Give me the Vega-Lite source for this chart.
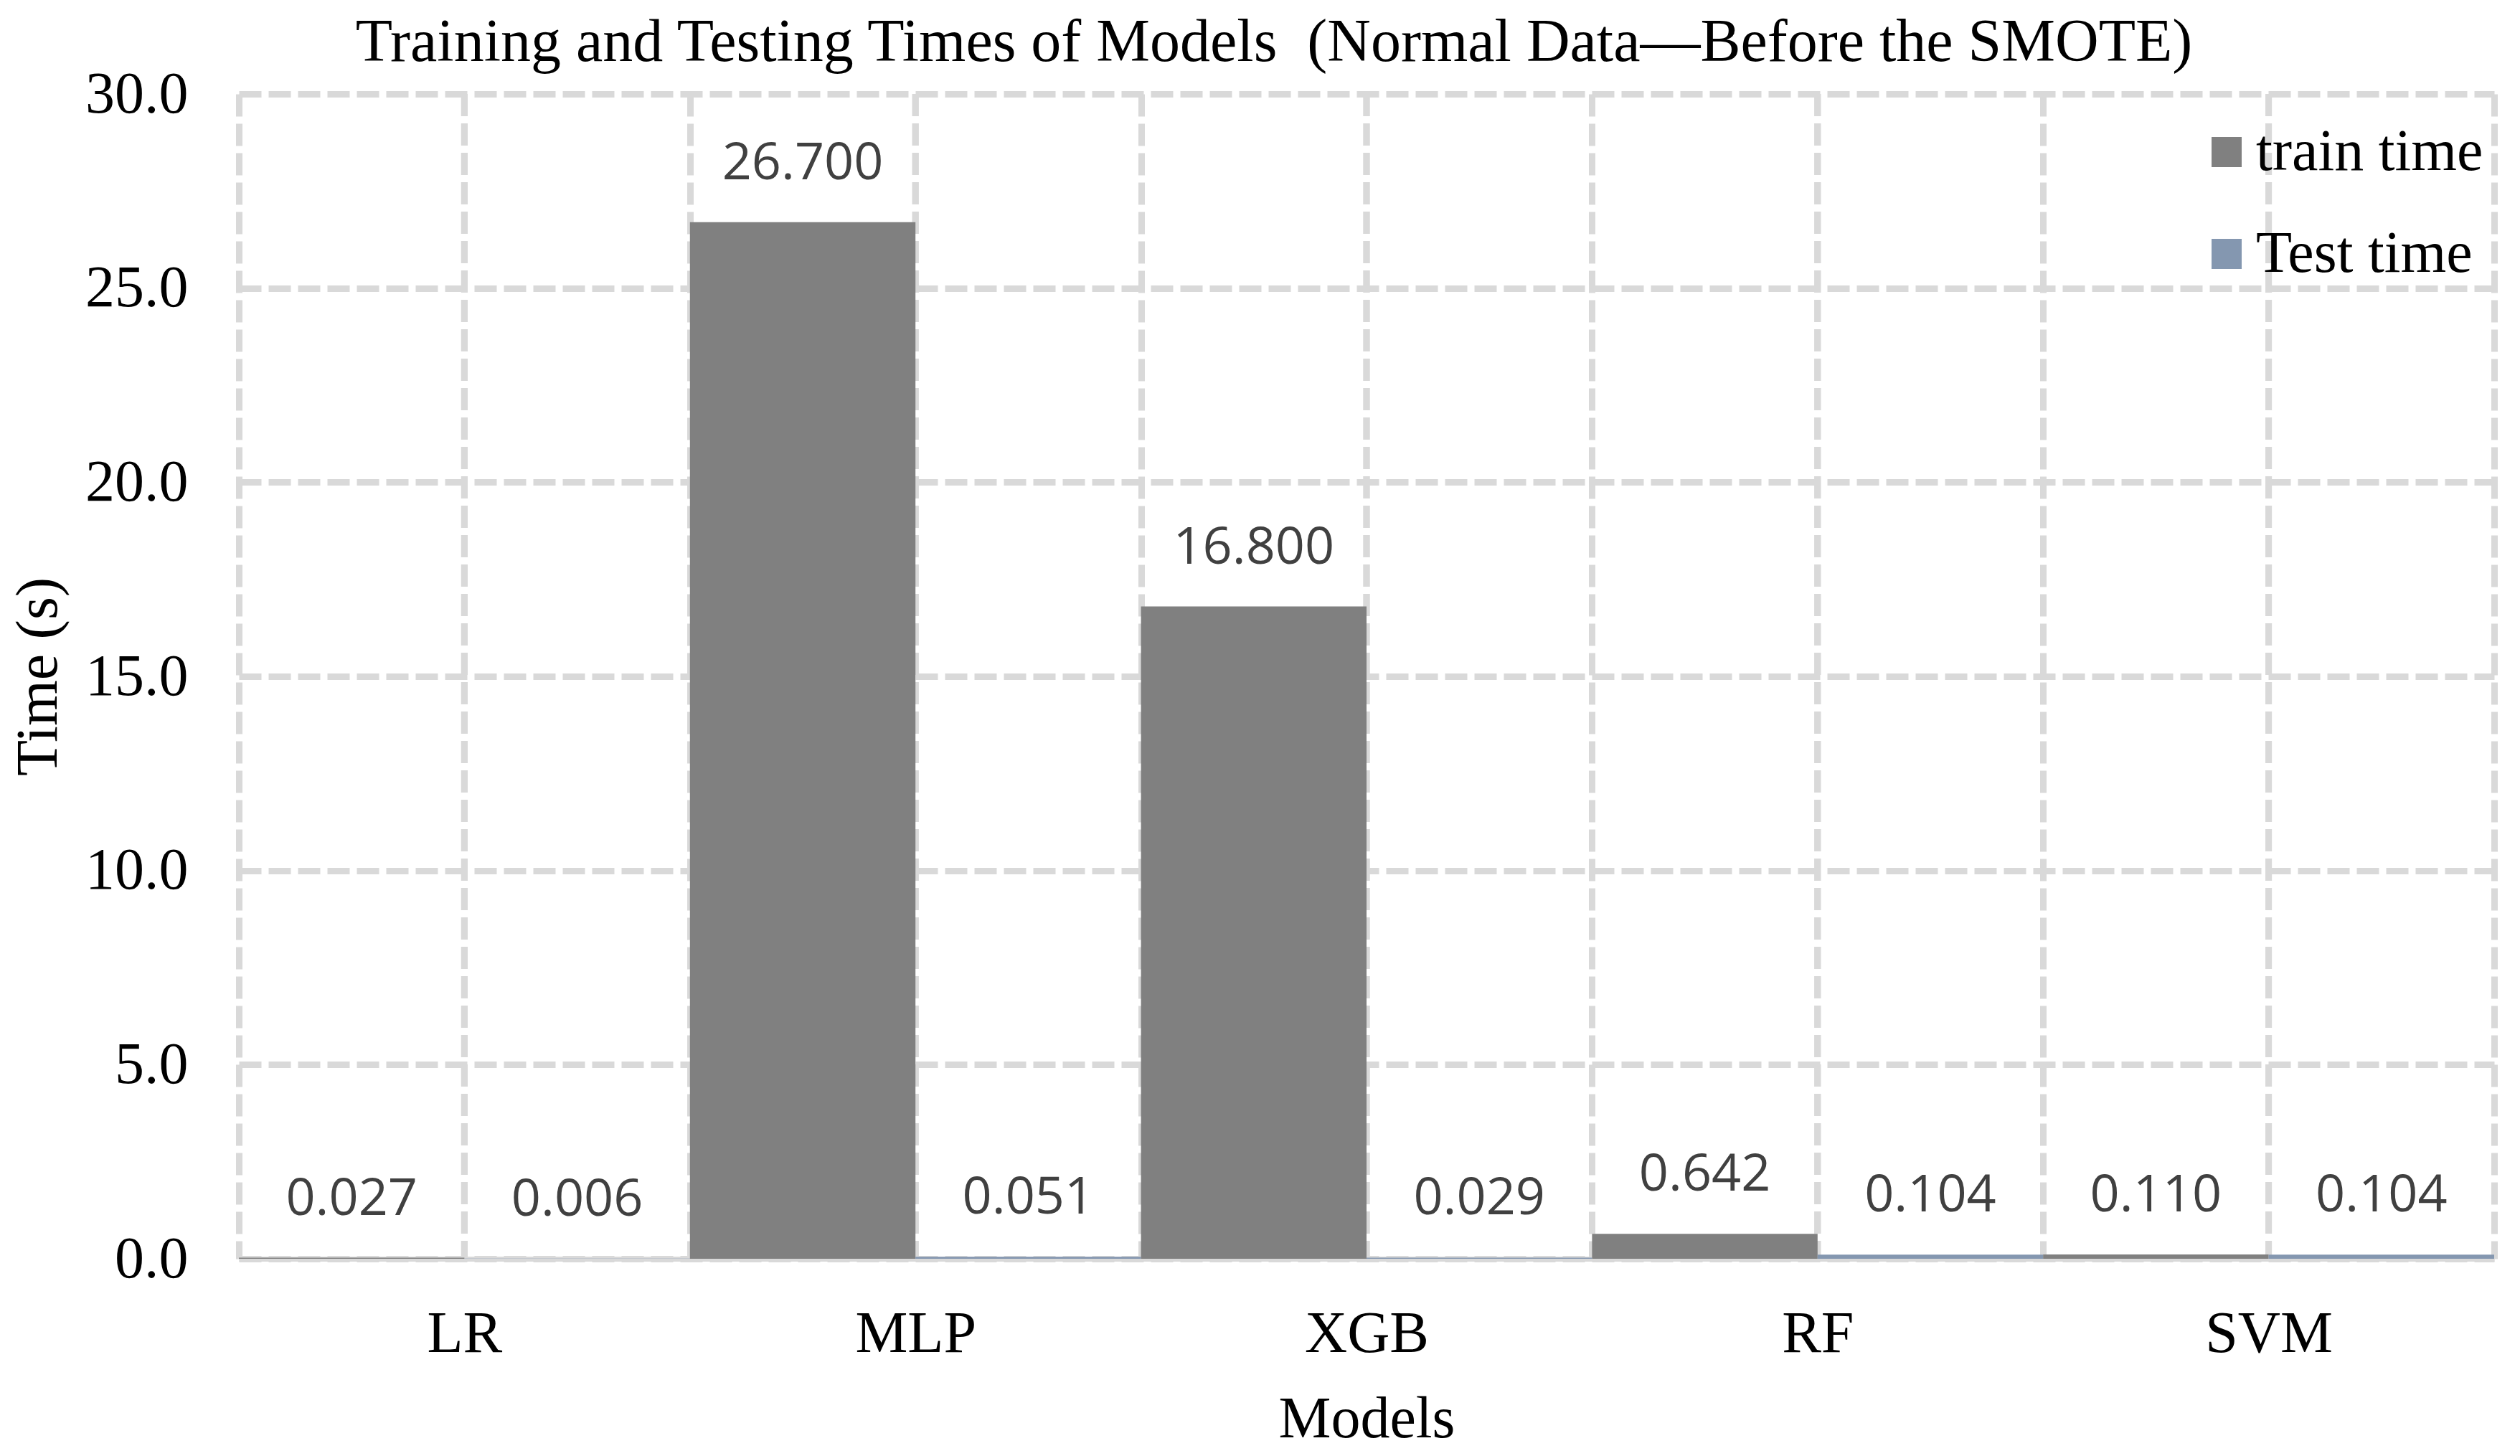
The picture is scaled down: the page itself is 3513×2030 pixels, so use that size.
{
  "$schema": "https://vega.github.io/schema/vega-lite/v6.json",
  "width": 3144,
  "height": 1624,
  "autosize": {"type": "none"},
  "padding": {"left": 333, "top": 131, "right": 36, "bottom": 275},
  "background": "white",
  "title": {
    "text": "Training and Testing Times of Models \u00a0(Normal Data—Before the SMOTE)",
    "font": "Liberation Serif",
    "fontSize": 84,
    "fontWeight": "normal",
    "color": "black",
    "anchor": "middle",
    "frame": "group",
    "dx": -129,
    "dy": 43,
    "offset": 30
  },
  "data": {
    "values": [
      {"model": "LR", "series": "train time", "value": 0.027},
      {"model": "LR", "series": "Test time", "value": 0.006},
      {"model": "MLP", "series": "train time", "value": 26.7},
      {"model": "MLP", "series": "Test time", "value": 0.051},
      {"model": "XGB", "series": "train time", "value": 16.8},
      {"model": "XGB", "series": "Test time", "value": 0.029},
      {"model": "RF", "series": "train time", "value": 0.642},
      {"model": "RF", "series": "Test time", "value": 0.104},
      {"model": "SVM", "series": "train time", "value": 0.11},
      {"model": "SVM", "series": "Test time", "value": 0.104}
    ]
  },
  "encoding": {
    "x": {
      "field": "model",
      "type": "nominal",
      "sort": ["LR", "MLP", "XGB", "RF", "SVM"],
      "scale": {"paddingInner": 0, "paddingOuter": 0},
      "axis": {
        "title": "Models",
        "labelAngle": 0,
        "labelFont": "Liberation Serif",
        "labelFontSize": 82,
        "labelColor": "black",
        "labelPadding": 64,
        "ticks": false,
        "tickSize": 0,
        "tickBand": "extent",
        "grid": true,
        "gridColor": "#d9d9d9",
        "gridWidth": 9,
        "gridDash": [31, 10],
        "domain": true,
        "domainColor": "#d9d9d9",
        "domainWidth": 7,
        "titleFont": "Liberation Serif",
        "titleFontSize": 82,
        "titleFontWeight": "normal",
        "titleColor": "black",
        "titlePadding": 38
      }
    }
  },
  "layer": [
    {
      "mark": {"type": "rule", "color": "#d9d9d9", "strokeWidth": 9, "strokeDash": [31, 10]},
      "encoding": {
        "x": {
          "field": "model",
          "type": "nominal",
          "sort": ["LR", "MLP", "XGB", "RF", "SVM"],
          "bandPosition": 0.5
        }
      }
    },
    {
      "mark": {"type": "bar"},
      "encoding": {
        "xOffset": {
          "field": "series",
          "type": "nominal",
          "sort": ["train time", "Test time"],
          "scale": {"paddingInner": 0, "paddingOuter": 0}
        },
        "y": {
          "field": "value",
          "type": "quantitative",
          "scale": {"domain": [0, 30], "nice": false},
          "axis": {
            "title": "Time (s)",
            "values": [0, 5, 10, 15, 20, 25, 30],
            "format": ".1f",
            "labelFont": "Liberation Serif",
            "labelFontSize": 82,
            "labelColor": "black",
            "labelPadding": 71,
            "ticks": false,
            "tickSize": 0,
            "domain": false,
            "grid": true,
            "gridColor": "#d9d9d9",
            "gridWidth": 9,
            "gridDash": [31, 10],
            "titleFont": "Liberation Serif",
            "titleFontSize": 82,
            "titleFontWeight": "normal",
            "titleColor": "black",
            "titlePadding": 38
          }
        },
        "color": {
          "field": "series",
          "type": "nominal",
          "scale": {"domain": ["train time", "Test time"], "range": ["#808080", "#8497b0"]},
          "legend": {
            "title": null,
            "orient": "none",
            "legendX": 2730,
            "legendY": 40,
            "padding": 0,
            "symbolType": "square",
            "symbolSize": 1764,
            "symbolStrokeWidth": 0,
            "labelFont": "Liberation Serif",
            "labelFontSize": 82,
            "labelColor": "black",
            "labelOffset": 0,
            "rowPadding": 60,
            "labelLimit": 1000
          }
        }
      }
    },
    {
      "mark": {"type": "text", "font": "Open Sans", "fontSize": 72, "color": "#404040", "baseline": "alphabetic", "dy": -60},
      "encoding": {
        "xOffset": {
          "field": "series",
          "type": "nominal",
          "sort": ["train time", "Test time"],
          "scale": {"paddingInner": 0, "paddingOuter": 0}
        },
        "y": {"field": "value", "type": "quantitative"},
        "text": {"field": "value", "type": "quantitative", "format": ".3f"}
      }
    }
  ],
  "config": {"view": {"stroke": null}}
}
